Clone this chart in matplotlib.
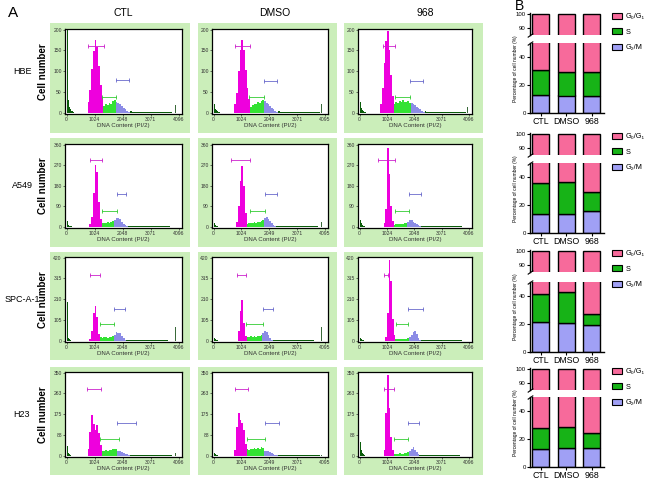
import numpy as np
import matplotlib
matplotlib.use('Agg')
import matplotlib.pyplot as plt
from matplotlib.patches import Rectangle, Patch

plt.rcParams['font.family'] = ['Liberation Sans', 'DejaVu Sans']

W, H = 650, 480

cell_lines = ['HBE', 'A549', 'SPC-A-1', 'H23']
treatments = ['CTL', 'DMSO', '968']

# ---- A: DNA content histograms, counts per 64-channel bin ----
hist_ymax = [200, 360, 420, 350]
hist_yticks = [[0, 50, 100, 150, 200],
               [0, 90, 180, 270, 360],
               [0, 105, 210, 315, 420],
               [0, 88, 175, 263, 350]]
hist_xticks = [0, 1024, 2048, 3071, 4096]
hist_xticklabels = [['0', '1024', '2048', '3071', '4096'],
                    ['0', '1024', '2049', '3071', '4095'],
                    ['0', '1024', '2048', '3071', '4096']]

BIN = 64
g1_start = [[768, 768, 768],
            [832, 832, 896],
            [832, 896, 960],
            [768, 768, 896]]
g1_counts = [
    [[26, 55, 105, 148, 174, 158, 112, 68, 38],
     [20, 48, 100, 150, 176, 150, 104, 60, 32],
     [20, 60, 120, 172, 196, 150, 90, 40]],
    [[12, 45, 150, 273, 240, 110, 35],
     [20, 90, 200, 267, 180, 60],
     [15, 80, 345, 230, 90, 25]],
    [[10, 50, 140, 178, 120, 35],
     [50, 150, 207, 90, 25],
     [20, 140, 410, 300, 110, 30]],
    [[30, 100, 173, 135, 110, 131, 95, 45],
     [25, 120, 181, 150, 140, 110, 50],
     [25, 180, 339, 200, 80, 25]],
]
s_counts = [
    [[16, 20, 18, 24, 22, 28, 30],
     [14, 18, 20, 22, 25, 24, 28, 30],
     [22, 26, 24, 28, 25, 30, 27, 26, 28, 24]],
    [[15, 18, 16, 20, 18, 22, 24],
     [12, 15, 18, 15, 20, 18, 22, 20, 25, 28],
     [8, 10, 12, 10, 13, 12, 15, 18]],
    [[18, 16, 20, 18, 15, 20, 18, 22],
     [20, 18, 22, 20, 25, 18, 24, 22, 28],
     [10, 8, 10, 9, 10, 8, 10, 12]],
    [[22, 20, 25, 22, 24, 26, 28, 30, 28],
     [28, 25, 30, 28, 32, 30, 34, 30, 35, 32],
     [8, 9, 8, 10, 9, 8, 10, 12, 14]],
]
g2_counts = [
    [[27, 24, 22, 17, 12, 8, 5, 3],
     [28, 24, 20, 16, 12, 8, 5, 3],
     [24, 22, 18, 15, 11, 8, 5, 3]],
    [[28, 38, 40, 32, 22, 14, 8, 4],
     [38, 45, 36, 25, 15, 8, 4],
     [22, 30, 28, 22, 16, 10, 6, 4]],
    [[30, 42, 38, 40, 25, 12, 5],
     [40, 50, 42, 28, 14, 6],
     [18, 28, 45, 50, 35, 15, 6]],
    [[20, 18, 16, 12, 9, 6, 3],
     [22, 20, 18, 14, 10, 7, 4, 2],
     [22, 30, 35, 26, 14, 6]],
]
tail_counts = [4, 3, 3, 3, 2, 2, 2, 2, 2, 2, 2, 2, 2, 2, 2, 2, 2, 2, 2, 2, 2, 2, 2, 2]
# debris near channel 0, 32-channel bins
debris_counts = [
    [[200, 75, 30, 15, 8, 5, 4, 3], [55, 20, 10, 6, 4, 3, 3], [50, 25, 12, 6, 4, 3, 3]],
    [[25, 12, 8, 5, 4, 3], [40, 15, 8, 5, 4], [100, 30, 15, 8, 5, 4]],
    [[195, 40, 15, 8, 5], [40, 15, 8, 5, 4], [45, 15, 8, 5, 4]],
    [[40, 30, 12, 8, 5], [30, 12, 8, 5, 4], [190, 60, 25, 12, 8, 5]],
]
spike_pos = [[3968, 3968, 4032], [3904, 3968, 3968], [3968, 3968, 3968], [3968, 3968, 3968]]
spike_h = [[18, 20, 15], [15, 20, 12], [70, 67, 78], [10, 5, 20]]

# gate markers (from, to, height)
gate_g1 = [[(770, 1350, 161), (790, 1350, 161), (860, 1310, 160)],
           [(870, 1290, 292), (650, 1350, 292), (695, 1340, 292)],
           [(860, 1200, 333), (875, 1180, 333), (905, 1050, 333)],
           [(730, 1270, 281), (795, 1250, 281), (905, 1290, 281)]]
gate_s = [[(1290, 1800, 39), (1320, 1850, 39), (1310, 1875, 37)],
          [(1290, 1820, 71), (1350, 1880, 71), (1340, 1860, 71)],
          [(1200, 1735, 83), (1180, 1820, 83), (1350, 1830, 83)],
          [(1210, 1900, 70), (1215, 1880, 70), (1290, 1830, 70)]]
gate_g2 = [[(1800, 2270, 79), (1850, 2350, 77), (1875, 2360, 77)],
           [(1820, 2180, 143), (1880, 2340, 143), (1860, 2310, 143)],
           [(1735, 2130, 162), (1820, 2190, 162), (1810, 2375, 162)],
           [(1840, 2530, 140), (1880, 2390, 140), (1810, 2215, 140)]]

# ---- B: cell cycle distribution (%) ----
g2m_pct = [[13, 12.5, 12], [13.3, 13.3, 16], [21.2, 20.5, 19.5], [12.6, 13.3, 13.8]]
s_pct = [[17.5, 17, 17], [22.2, 23.4, 13], [20.4, 22.2, 7.8], [15, 15, 10.2]]
g01_pct = [[69.5, 70.5, 71], [64.5, 63.3, 71], [58.4, 57.3, 72.7], [72.4, 71.7, 76]]

c_g1, c_s, c_g2, c_deb = '#EE00DD', '#33E233', '#8C8CE6', '#0B5D0B'
c_bar_g1, c_bar_s, c_bar_g2 = '#F76A9B', '#17B317', '#A0A0F5'


def frac(x0, y0, x1, y1):
    return [x0 / W, 1 - y1 / H, (x1 - x0) / W, (y1 - y0) / H]


def ftext(x, y, s, **kw):
    fig.text(x / W, 1 - y / H, s, ha='center', va='center', **kw)


fig = plt.figure(figsize=(6.5, 4.8), dpi=100)

col_px = [(65, 182), (212, 328), (358, 472)]
row_px = [(29, 114), (144, 228), (257, 342), (372, 457)]
box_col = [(50, 190), (198, 337), (344, 483)]
box_row = [(23, 133), (138, 247), (252, 360), (367, 475)]

for r in range(4):
    for c in range(3):
        bx0, bx1 = box_col[c]
        by0, by1 = box_row[r]
        fig.add_artist(Rectangle((bx0 / W, 1 - by1 / H), (bx1 - bx0) / W, (by1 - by0) / H,
                                 transform=fig.transFigure, facecolor='#CBEEBA',
                                 edgecolor='none', zorder=0))
        ax = fig.add_axes(frac(col_px[c][0], row_px[r][0], col_px[c][1], row_px[r][1]))
        ymax = hist_ymax[r]

        deb = debris_counts[r][c]
        ax.stairs(deb, np.arange(len(deb) + 1) * 32, fill=True, color=c_deb, lw=0)
        e = g1_start[r][c]
        for counts, col in ((g1_counts[r][c], c_g1), (s_counts[r][c], c_s),
                            (g2_counts[r][c], c_g2), (tail_counts, c_deb)):
            edges = e + np.arange(len(counts) + 1) * BIN
            ax.stairs(counts, edges, fill=True, color=col, lw=0)
            e = edges[-1]
        ax.bar(spike_pos[r][c], spike_h[r][c], width=28, align='edge', color='#3A6A3A', lw=0)

        for gates, gc in ((gate_g1, '#CC22CC'), (gate_s, '#33CC33'), (gate_g2, '#6A6ACC')):
            x0, x1, gy = gates[r][c]
            ax.plot([x0, x1], [gy, gy], color=gc, lw=0.6, marker='|', ms=2.5, mew=0.6)

        ax.set_xlim(-60, 4210)
        ax.set_ylim(-0.015 * ymax, ymax * 1.008)
        ax.set_xticks(hist_xticks)
        ax.set_xticklabels(hist_xticklabels[c])
        ax.set_yticks(hist_yticks[r])
        ax.tick_params(labelsize=3.6, length=1.5, width=0.5, pad=0.8, colors='#333333')
        for sp in ax.spines.values():
            sp.set_linewidth(0.9)
            sp.set_color('black')
        ax.set_xlabel('DNA Content (PI/2)', fontsize=4.4, labelpad=0.5, color='#333333')

# labels for panel A
ftext(13, 13, 'A', fontsize=11)
for c, (x, name) in enumerate(zip([123, 275, 425], treatments)):
    ftext(x, 13, name, fontsize=7.5)
for r, name in enumerate(cell_lines):
    yc = (row_px[r][0] + row_px[r][1]) / 2
    ftext(22, yc, name, fontsize=6.5)
    ftext(43, yc, 'Cell number', fontsize=7, fontweight='bold', rotation=90)

# ---- panel B ----
ftext(520, 6, 'B', fontsize=10)
b_top = [14, 134, 251, 369]
b_zero = [113, 233, 352, 467]
xb = np.arange(3)
for r in range(4):
    ax_hi = fig.add_axes(frac(530, b_top[r] - 1, 604, b_top[r] + 21))
    ax_lo = fig.add_axes(frac(530, b_zero[r] - 70, 604, b_zero[r]))
    cum = np.add(g2m_pct[r], s_pct[r])
    for ax in (ax_hi, ax_lo):
        ax.bar(xb, g2m_pct[r], 0.67, color=c_bar_g2, edgecolor='black', lw=1)
        ax.bar(xb, s_pct[r], 0.67, bottom=g2m_pct[r], color=c_bar_s, edgecolor='black', lw=1)
        ax.bar(xb, g01_pct[r], 0.67, bottom=cum, color=c_bar_g1, edgecolor='black', lw=1)
        ax.set_xlim(-0.42, 2.48)
        ax.spines['right'].set_visible(False)
        ax.spines['left'].set_linewidth(1)
        ax.patch.set_alpha(0)
        ax.tick_params(axis='y', labelsize=4.3, length=2, width=0.8, pad=1)
    ax_hi.set_ylim(85, 100.7)
    ax_hi.set_yticks([90, 100])
    ax_hi.spines['top'].set_visible(False)
    ax_hi.spines['bottom'].set_visible(False)
    ax_hi.set_xticks([])
    ax_lo.set_ylim(0, 50)
    ax_lo.set_yticks([0, 20, 40])
    ax_lo.spines['top'].set_visible(False)
    ax_lo.spines['bottom'].set_linewidth(1)
    ax_lo.set_xticks(xb)
    ax_lo.set_xticklabels(treatments)
    ax_lo.tick_params(axis='x', labelsize=6.3, length=2, width=0.8, pad=1)
    kw = dict(marker=[(-1, -0.7), (1, 0.7)], markersize=4, linestyle='none',
              color='k', mec='k', mew=0.8, clip_on=False)
    ax_hi.plot([0], [0], transform=ax_hi.transAxes, **kw)
    ax_lo.plot([0], [1], transform=ax_lo.transAxes, **kw)

    ftext(516, (b_top[r] + b_zero[r]) / 2 + 5, 'Percentage of cell number (%)', fontsize=3.5,
          rotation=90)
    handles = [Patch(facecolor=c_bar_g1, edgecolor='black', lw=0.8, label='G₀/G₁'),
               Patch(facecolor=c_bar_s, edgecolor='black', lw=0.8, label='S'),
               Patch(facecolor=c_bar_g2, edgecolor='black', lw=0.8, label='G₂/M')]
    fig.legend(handles=handles, loc='upper left', bbox_to_anchor=(612 / W, 1 - (b_top[r] - 1) / H),
               frameon=False, fontsize=5.3, handlelength=1.3, handleheight=0.8,
               labelspacing=1.1, handletextpad=0.5, borderpad=0, borderaxespad=0)

fig.savefig('out.png', dpi=100)
